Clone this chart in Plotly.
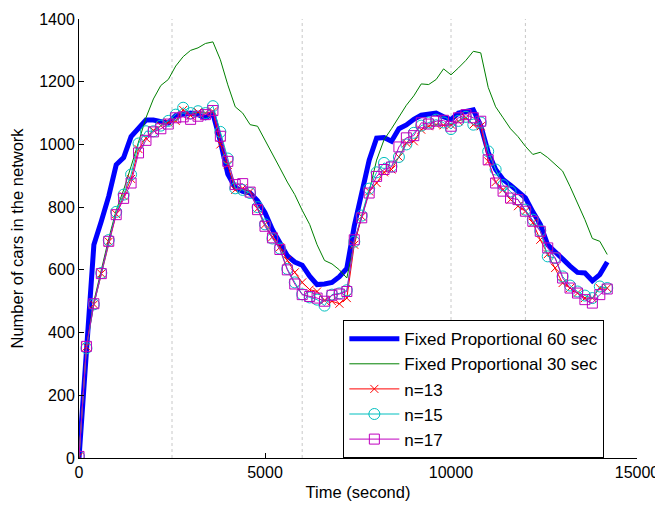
import plotly.graph_objects as go

# time axis, one sample every 200 s
time_s = list(range(0, 14201, 200))

fixed_60 = [0, 350, 680, 755, 835, 935, 958, 1025, 1050, 1078, 1078, 1072, 1068, 1092, 1098, 1100, 1095, 1085, 1098,
            1010, 905, 862, 850, 845, 820, 782, 728, 690, 645, 625, 615, 580, 553, 555, 560, 578, 605,
            740, 850, 950, 1020, 1022, 1010, 1050, 1062, 1080, 1093, 1096, 1100, 1088, 1079, 1100, 1105, 1110,
            1060, 975, 920, 888, 870, 850, 830, 785, 745, 680, 660, 635, 612, 592, 590, 565, 585, 625]

fixed_30 = [0, 355, 500, 605, 700, 790, 855, 930, 1010, 1085, 1145, 1188, 1207, 1250, 1280, 1300, 1308, 1322, 1327,
            1270, 1190, 1120, 1100, 1063, 1058, 1015, 968, 925, 880, 840, 790, 745, 680, 630, 619, 600, 574,
            686, 771, 850, 950, 1015, 1050, 1088, 1125, 1155, 1193, 1191, 1207, 1241, 1222, 1244, 1268, 1297,
            1292, 1182, 1120, 1085, 1050, 1025, 994, 968, 975, 958, 935, 915, 866, 813, 760, 700, 691, 649]

n13 = [5, 355, 490, 588, 690, 778, 835, 890, 985, 1020, 1045, 1060, 1070, 1075, 1110, 1092, 1103, 1100, 1105,
       1000, 935, 855, 860, 850, 795, 745, 705, 672, 630, 592, 560, 537, 531, 503, 500, 492, 510,
       680, 770, 850, 877, 911, 920, 960, 1005, 1010, 1047, 1058, 1063, 1061, 1063, 1074, 1085, 1063,
       1058, 946, 880, 856, 824, 803, 787, 750, 696, 650, 606, 558, 542, 526, 510, 510, 542, 542]

n15 = [5, 350, 490, 590, 695, 785, 840, 904, 1003, 1042, 1042, 1060, 1075, 1095, 1117, 1100, 1106, 1100, 1122,
       1040, 955, 860, 855, 845, 800, 745, 700, 668, 603, 560, 522, 512, 505, 486, 521, 525, 535,
       690, 773, 859, 911, 941, 930, 960, 1000, 1037, 1060, 1070, 1079, 1070, 1049, 1075, 1088, 1063,
       1070, 978, 920, 870, 850, 824, 792, 760, 725, 643, 638, 579, 550, 531, 518, 510, 547, 542]

n17 = [5, 356, 492, 588, 691, 776, 828, 877, 973, 1013, 1040, 1050, 1065, 1085, 1088, 1080, 1090, 1095, 1108,
       1026, 946, 872, 875, 848, 792, 739, 702, 665, 600, 555, 521, 515, 510, 500, 519, 523, 531,
       696, 766, 845, 898, 920, 928, 992, 1021, 1028, 1069, 1065, 1074, 1077, 1058, 1085, 1095, 1085,
       1074, 951, 877, 851, 829, 824, 787, 755, 723, 670, 638, 574, 542, 526, 505, 494, 521, 539]

period_marks = [2500, 6000, 10000, 12000]

fig = go.Figure()

# dotted reference lines
for p in period_marks:
    fig.add_vline(x=p, line=dict(color="#c8c8c8", width=1, dash="dot"), layer="below")

fig.add_trace(go.Scatter(x=time_s, y=fixed_60, mode="lines", name="Fixed Proportional 60 sec",
                         line=dict(color="#0000ff", width=5)))
fig.add_trace(go.Scatter(x=time_s, y=fixed_30, mode="lines", name="Fixed Proportional 30 sec",
                         line=dict(color="#008000", width=1)))
fig.add_trace(go.Scatter(x=time_s, y=n13, mode="lines+markers", name="n=13",
                         line=dict(color="#ff0000", width=1),
                         marker=dict(symbol="x-thin-open", size=8, line=dict(color="#ff0000", width=1))))
fig.add_trace(go.Scatter(x=time_s, y=n15, mode="lines+markers", name="n=15",
                         line=dict(color="#00bfbf", width=1),
                         marker=dict(symbol="circle-open", size=11, line=dict(color="#00bfbf", width=1))))
fig.add_trace(go.Scatter(x=time_s, y=n17, mode="lines+markers", name="n=17",
                         line=dict(color="#bf00bf", width=1),
                         marker=dict(symbol="square-open", size=10, line=dict(color="#bf00bf", width=1))))

fam = "Liberation Sans, Arial, sans-serif"

# page body has an 8px margin, so the figure is a bit smaller than the window
fig.update_layout(
    width=655, height=498,
    template=None,
    paper_bgcolor="white", plot_bgcolor="white",
    margin=dict(l=71, r=26, t=11, b=48),
    font=dict(family=fam, size=16, color="black"),
    showlegend=True,
    legend=dict(x=0.9415, y=0.314, xanchor="right", yanchor="top",
                bgcolor="white", bordercolor="black", borderwidth=1,
                font=dict(family=fam, size=17),
                tracegroupgap=0, itemwidth=50),
)
fig.update_xaxes(range=[0, 15000], tickvals=[0, 5000, 10000, 15000], tickformat="d",
                 showline=True, linecolor="black", linewidth=1, mirror=False,
                 ticks="inside", ticklen=5, tickcolor="black",
                 showgrid=False, zeroline=False, automargin=False,
                 title=dict(text="Time (second)", standoff=6, font=dict(family=fam, size=16.5)))
fig.update_yaxes(range=[0, 1400], tickvals=list(range(0, 1401, 200)),
                 showline=True, linecolor="black", linewidth=1, mirror=False,
                 ticks="inside", ticklen=5, tickcolor="black",
                 showgrid=False, zeroline=False, automargin=False,
                 title=dict(text="Number of cars in the network", standoff=14, font=dict(family=fam, size=16.5)))

fig.write_html("out.html")
